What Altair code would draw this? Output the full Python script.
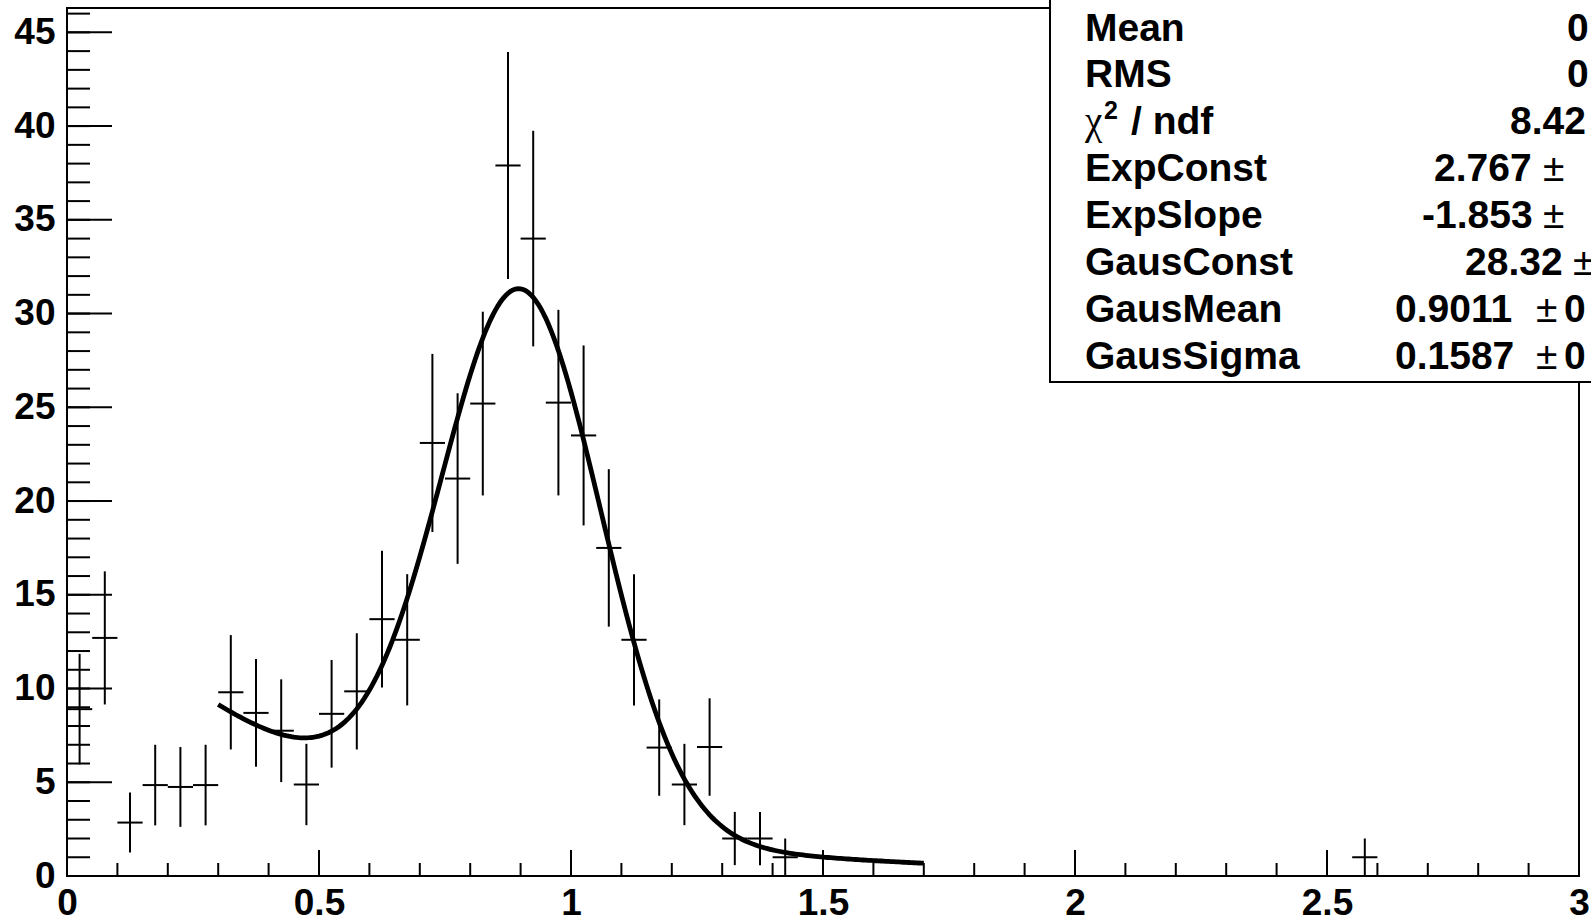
import altair as alt
import numpy as np
import pandas as pd

# ---------------- data ----------------
bin_centers = [0.025, 0.075, 0.125, 0.175, 0.225, 0.275, 0.325, 0.375, 0.425, 0.475,
               0.525, 0.575, 0.625, 0.675, 0.725, 0.775, 0.825, 0.875, 0.925, 0.975,
               1.025, 1.075, 1.125, 1.175, 1.225, 1.275, 1.325, 1.375, 1.425, 2.575]
bin_counts = [8.9, 12.7, 2.85, 4.85, 4.75, 4.85, 9.8, 8.7, 7.75, 4.88,
              8.65, 9.85, 13.7, 12.6, 23.1, 21.2, 25.2, 37.9, 34.0, 25.25,
              23.5, 17.5, 12.6, 6.85, 4.88, 6.88, 2.0, 2.0, 1.0, 1.0]
bin_errors = [2.95, 3.55, 1.6, 2.15, 2.13, 2.15, 3.05, 2.87, 2.74, 2.17,
              2.87, 3.1, 3.65, 3.5, 4.75, 4.55, 4.9, 6.05, 5.75, 4.95,
              4.8, 4.2, 3.5, 2.57, 2.17, 2.6, 1.42, 1.42, 1.0, 1.0]
bin_width = 0.05

# fit parameters (from the stats box)
exp_const = 2.767
exp_slope = -1.853
gaus_const = 28.32
gaus_mean = 0.9011
gaus_sigma = 0.1587
fit_range = [0.3, 1.7]

stat_names = ["Mean", "RMS", "χ2 / ndf", "ExpConst", "ExpSlope",
              "GausConst", "GausMean", "GausSigma"]
stat_values = ["0", "0", "8.42", "2.767", "-1.853", "28.32", "0.9011", "0.1587"]
stat_pm = ["", "", "", "±", "±", "±", "±", "±"]
stat_errs = ["", "", "", "", "", "", "0", "0"]

x_major = [0, 0.5, 1, 1.5, 2, 2.5, 3]
x_minor = [0, 0.1, 0.2, 0.3, 0.4, 0.5, 0.6, 0.7, 0.8, 0.9, 1.0, 1.1, 1.2, 1.3, 1.4, 1.5,
           1.6, 1.7, 1.8, 1.9, 2.0, 2.1, 2.2, 2.3, 2.4, 2.5, 2.6, 2.7, 2.8, 2.9, 3.0]
y_major = [0, 5, 10, 15, 20, 25, 30, 35, 40, 45]
y_minor = list(range(0, 47))
x_domain = [0, 3]
y_domain = [0, 46.3]

# ---------------- layout / style ----------------
W, H = 1512, 868
PAD_L, PAD_T, PAD_R, PAD_B = 67, 8, 12, 42
FONT = "Liberation Sans"
AX_FS = 37
ST_FS = 39

hist = pd.DataFrame({"x": bin_centers, "y": bin_counts, "e": bin_errors})
hist["lo"] = hist["y"] - hist["e"]
hist["hi"] = hist["y"] + hist["e"]
hist["xl"] = hist["x"] - bin_width / 2
hist["xr"] = hist["x"] + bin_width / 2

fx = np.linspace(fit_range[0], fit_range[1], 281)
fy = np.exp(exp_const + exp_slope * fx) + gaus_const * np.exp(-0.5 * ((fx - gaus_mean) / gaus_sigma) ** 2)
fit = pd.DataFrame({"x": fx, "y": fy})

one = pd.DataFrame({"k": [0]})

xscale = alt.Scale(domain=x_domain, nice=False, zero=False)
yscale = alt.Scale(domain=y_domain, nice=False, zero=False)

xaxis = alt.Axis(values=x_major, format="~g", labelFont=FONT, labelFontWeight="bold",
                 labelFontSize=AX_FS, labelColor="black", labelPadding=9, ticks=False,
                 tickSize=0, domain=False, grid=False, labelFlush=False,
                 labelOverlap=False, labelBound=False)
yaxis = alt.Axis(values=y_major, format="d", labelFont=FONT, labelFontWeight="bold",
                 labelFontSize=AX_FS, labelColor="black", labelPadding=12, ticks=False,
                 tickSize=0, domain=False, grid=False, labelFlush=False,
                 labelOverlap=False, labelBound=False, labelBaseline="middle")


def X(f):
    return alt.X(f, scale=xscale, axis=xaxis, title=None)


def Y(f):
    return alt.Y(f, scale=yscale, axis=yaxis, title=None)


frame = alt.Chart(one).mark_rect(fill="white", fillOpacity=0, stroke="black", strokeWidth=2).encode(
    x=alt.value(0), x2=alt.value(W), y=alt.value(0), y2=alt.value(H))

yt_minor = alt.Chart(pd.DataFrame({"v": y_minor})).mark_rule(color="black", strokeWidth=2).encode(
    y=Y("v:Q"), x=alt.value(0), x2=alt.value(23))
yt_major = alt.Chart(pd.DataFrame({"v": y_major})).mark_rule(color="black", strokeWidth=2).encode(
    y=Y("v:Q"), x=alt.value(0), x2=alt.value(45))
xt_minor = alt.Chart(pd.DataFrame({"v": x_minor})).mark_rule(color="black", strokeWidth=2).encode(
    x=X("v:Q"), y=alt.value(H), y2=alt.value(H - 13))
xt_major = alt.Chart(pd.DataFrame({"v": x_major})).mark_rule(color="black", strokeWidth=2).encode(
    x=X("v:Q"), y=alt.value(H), y2=alt.value(H - 26))

curve = alt.Chart(fit).mark_line(color="black", strokeWidth=4.8).encode(x=X("x:Q"), y=Y("y:Q"))

vbars = alt.Chart(hist).mark_rule(color="black", strokeWidth=2).encode(
    x=X("x:Q"), y=Y("lo:Q"), y2="hi:Q")
hbars = alt.Chart(hist).mark_rule(color="black", strokeWidth=2).encode(
    x=X("xl:Q"), x2="xr:Q", y=Y("y:Q"))

box = alt.Chart(one).mark_rect(fill="white", stroke="black", strokeWidth=2).encode(
    x=alt.value(1050 - PAD_L), x2=alt.value(W + 80), y=alt.value(-40), y2=alt.value(382 - PAD_T))


def txt(s, x, y, size=ST_FS, weight="bold", font=FONT):
    return alt.Chart(one).mark_text(text=s, align="left", baseline="alphabetic", font=font,
                                    fontWeight=weight, fontSize=size, color="black").encode(
        x=alt.value(x - PAD_L), y=alt.value(y - PAD_T))


stat_value_x = [1567, 1567, 1510, 1434, 1422, 1465, 1395, 1395]
stat_pm_x = [0, 0, 0, 1543, 1543, 1573, 1536, 1536]
stat_err_x = [0, 0, 0, 0, 0, 0, 1564, 1564]
row0, pitch = 40.5, 46.9
texts = []
for i in range(len(stat_names)):
    yy = row0 + pitch * i
    if stat_names[i].startswith("χ"):
        texts.append(txt("χ", 1085, yy, weight="normal", font="Liberation Serif"))
        texts.append(txt("2", 1104, yy - 15, size=25))
        texts.append(txt("/ ndf", 1131, yy))
    else:
        texts.append(txt(stat_names[i], 1085, yy))
    texts.append(txt(stat_values[i], stat_value_x[i], yy))
    if stat_pm[i]:
        texts.append(txt(stat_pm[i], stat_pm_x[i], yy, weight="normal"))
    if stat_errs[i]:
        texts.append(txt(stat_errs[i], stat_err_x[i], yy))

chart = alt.layer(frame, yt_minor, yt_major, xt_minor, xt_major, curve, vbars, hbars, box, *texts).properties(
    width=W, height=H,
    autosize=alt.AutoSizeParams(type="none"),
    padding={"left": PAD_L, "top": PAD_T, "right": PAD_R, "bottom": PAD_B},
    background="white",
).configure_view(strokeWidth=0)

chart.save("out.html", embed_options={"renderer": "svg", "actions": False})
